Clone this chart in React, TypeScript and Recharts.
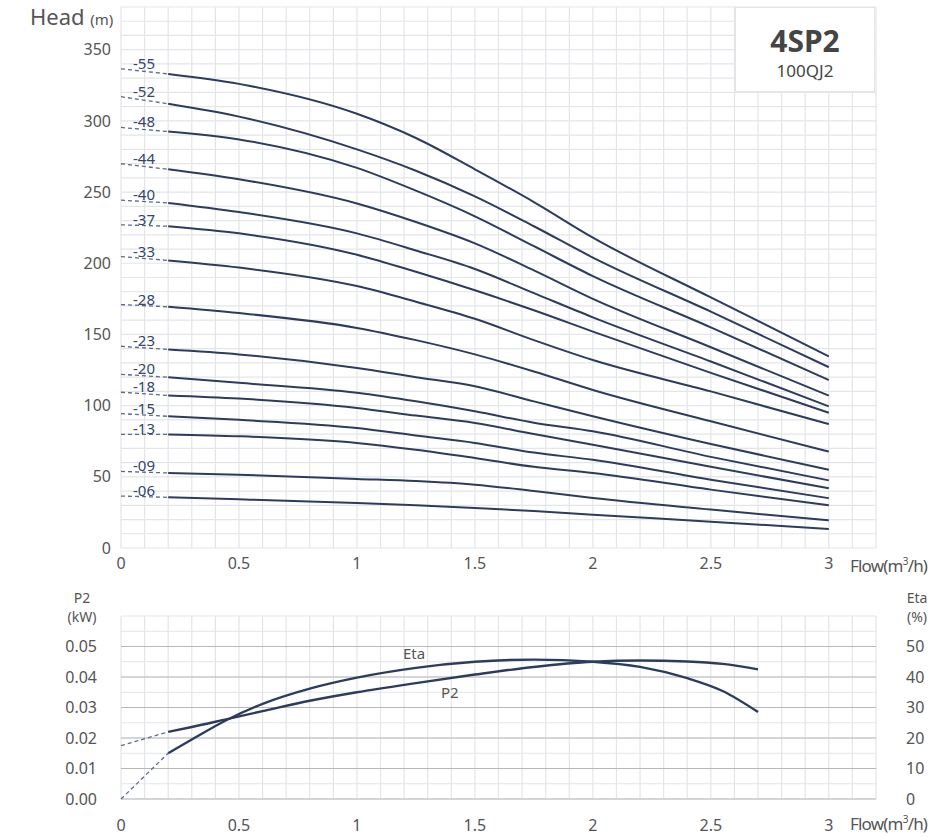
import { CartesianGrid, Line, LineChart, ReferenceLine, XAxis, YAxis } from "recharts";

// stage labels, top to bottom
const stages = ["-55", "-52", "-48", "-44", "-40", "-37", "-33", "-28", "-23", "-20", "-18", "-15", "-13", "-09", "-06"];

// flow points (m3/h) where the head curves were read
const flowPts = [0.2, 0.5, 1.0, 1.25, 1.5, 1.75, 2.0, 2.5, 3.0];

const head55 = [333, 326, 305, 288, 266, 243, 218, 176, 134.6];
const head52 = [312, 303, 280, 265, 247, 226, 204, 166, 127];
const head48 = [292.5, 287, 267, 251, 233, 212, 191, 155, 118];
const head44 = [266, 259, 242, 229, 214, 195, 175, 141, 107];
const head40 = [242.4, 236, 221, 209, 196, 179, 162, 131, 99.5];
const head37 = [226, 221, 206, 194, 181, 167, 152, 123, 95];
const head33 = [202, 197, 184, 173, 161, 146, 132, 110, 87];
const head28 = [169.4, 165, 154.6, 146, 136, 124, 111, 89, 67.7];
const head23 = [139.4, 136, 126.5, 120, 113.6, 103, 92.5, 73, 55];
const head20 = [119.9, 116, 109, 103, 96, 88, 82, 64, 47.5];
const head18 = [107.2, 105, 98.4, 93, 87.8, 80, 72.6, 57, 42];
const head15 = [92.5, 90, 84.3, 79, 73.8, 67, 62, 48, 35];
const head13 = [79.8, 78.5, 73.8, 69, 63.2, 57, 52.7, 41, 30];
const head09 = [52.7, 51.5, 48.5, 47, 44.5, 40, 35.1, 27, 19.4];
const head06 = [35.6, 34.2, 31.6, 30, 28.1, 26, 23.4, 18.5, 13.4];

// extrapolated head at zero flow (dashed part)
const headAtZero = [336.6, 317, 295.4, 269.9, 244.3, 227, 204.7, 171, 141.7, 122, 109.4, 94.4, 79.8, 53.8, 36.5];

const headCurves = [head55, head52, head48, head44, head40, head37, head33, head28, head23, head20, head18, head15, head13, head09, head06];

// lower chart
const effFlow = [0.2, 0.3, 0.45, 0.6, 0.8, 1.0, 1.25, 1.5, 1.75, 2.0, 2.2, 2.4, 2.55, 2.7];
const etaVals = [15, 19.5, 26, 31.2, 36.2, 39.8, 43, 45, 45.7, 45, 43.3, 39.6, 35.4, 28.5];
const p2Vals = [0.022, 0.0236, 0.0262, 0.0288, 0.0322, 0.035, 0.038, 0.0408, 0.0433, 0.045, 0.0454, 0.0451, 0.0443, 0.0425];
const etaDashVals = [0, 15];
const p2DashVals = [0.0175, 0.022];
const dashFlow = [0, 0.2];

const flowTicks = [0, 0.5, 1, 1.5, 2, 2.5, 3];
const headTicks = [0, 50, 100, 150, 200, 250, 300, 350];
const p2Ticks = [0, 0.01, 0.02, 0.03, 0.04, 0.05];
const etaTicks = [0, 10, 20, 30, 40, 50];

const NAVY = "#2d3c5e";
const DASH = "#5b6a8c";
const GRID = "#e3e5e9";
const MAJOR = "#b8b8b8";
const TXT = "#555";
const FONT = "'Noto Sans', sans-serif";

const flowGrid = Array.from({ length: 33 }, (_, i) => i / 10);
const headGrid = Array.from({ length: 39 }, (_, i) => i * 10);
const p2Grid = Array.from({ length: 13 }, (_, i) => (i * 5) / 1000);

const fmtFlow = (v: number) => (flowTicks.includes(v) ? String(v) : "");
const fmtHead = (v: number) => (headTicks.includes(v) ? String(v) : "");
const fmtP2 = (v: number) => (p2Ticks.some((t) => Math.abs(t - v) < 1e-9) ? v.toFixed(2) : "");

const tickStyle = { fontSize: 16, fill: TXT, fontFamily: FONT };

function stageLabel(name: string) {
  return (props: any) => {
    if (props.index !== 0) return null;
    return (
      <text x={props.x + 12} y={props.y} fill="#34466b" fontSize={15} fontFamily={FONT}>
        {name}
      </text>
    );
  };
}

function HeadChart() {
  return (
    <LineChart width={942} height={580} margin={{ top: 7, right: 66, bottom: 0, left: 0 }}>
      <CartesianGrid stroke={GRID} strokeWidth={1.2} />
      <XAxis
        type="number"
        dataKey="q"
        domain={[0, 3.2]}
        ticks={flowGrid}
        interval={0}
        tickFormatter={fmtFlow}
        axisLine={false}
        tickLine={false}
        tickSize={0}
        tickMargin={10}
        height={32}
        tick={tickStyle}
      />
      <YAxis
        type="number"
        domain={[0, 380]}
        ticks={headGrid}
        interval={0}
        tickFormatter={fmtHead}
        axisLine={false}
        tickLine={false}
        tickSize={0}
        tickMargin={10}
        width={121}
        tick={tickStyle}
      />
      {headCurves.map((arr, s) => (
        <Line
          key={"d" + stages[s]}
          data={dashFlow.map((q, i) => ({ q, h: i === 0 ? headAtZero[s] : arr[0] }))}
          dataKey="h"
          stroke={DASH}
          strokeWidth={1.3}
          strokeDasharray="4 3"
          dot={false}
          isAnimationActive={false}
          label={stageLabel(stages[s])}
        />
      ))}
      {headCurves.map((arr, s) => (
        <Line
          key={"c" + stages[s]}
          data={flowPts.map((q, i) => ({ q, h: arr[i] }))}
          dataKey="h"
          type="monotone"
          stroke={NAVY}
          strokeWidth={2}
          dot={false}
          isAnimationActive={false}
        />
      ))}
    </LineChart>
  );
}

function PowerChart() {
  const etaData = effFlow.map((q, i) => ({ q, v: etaVals[i] }));
  const p2Data = effFlow.map((q, i) => ({ q, v: p2Vals[i] }));
  const etaDash = dashFlow.map((q, i) => ({ q, v: etaDashVals[i] }));
  const p2Dash = dashFlow.map((q, i) => ({ q, v: p2DashVals[i] }));
  return (
    <LineChart width={942} height={247} margin={{ top: 26, right: 0, bottom: 0, left: 0 }}>
      <CartesianGrid stroke={GRID} strokeWidth={1.2} yAxisId="p2" />
      <XAxis
        type="number"
        dataKey="q"
        domain={[0, 3.2]}
        ticks={flowGrid}
        interval={0}
        tickFormatter={fmtFlow}
        axisLine={false}
        tickLine={false}
        tickSize={0}
        tickMargin={21}
        height={38}
        tick={tickStyle}
      />
      <YAxis
        yAxisId="p2"
        type="number"
        domain={[0, 0.06]}
        ticks={p2Grid}
        interval={0}
        tickFormatter={fmtP2}
        axisLine={false}
        tickLine={false}
        tickSize={0}
        tickMargin={24}
        width={121}
        tick={tickStyle}
      />
      <YAxis
        yAxisId="eta"
        orientation="right"
        type="number"
        domain={[0, 60]}
        ticks={etaTicks}
        interval={0}
        axisLine={false}
        tickLine={false}
        tickSize={0}
        tickMargin={30}
        width={66}
        tick={tickStyle}
      />
      {p2Ticks.map((t) => (
        <ReferenceLine key={t} yAxisId="p2" y={t} stroke={MAJOR} strokeWidth={1.2} />
      ))}
      <Line yAxisId="eta" data={etaDash} dataKey="v" stroke={DASH} strokeWidth={1.3} strokeDasharray="4 3" dot={false} isAnimationActive={false} />
      <Line yAxisId="p2" data={p2Dash} dataKey="v" stroke={DASH} strokeWidth={1.3} strokeDasharray="4 3" dot={false} isAnimationActive={false} />
      <Line yAxisId="eta" data={etaData} dataKey="v" type="monotone" stroke={NAVY} strokeWidth={2.4} dot={false} isAnimationActive={false} />
      <Line yAxisId="p2" data={p2Data} dataKey="v" type="monotone" stroke={NAVY} strokeWidth={2.4} dot={false} isAnimationActive={false} />
    </LineChart>
  );
}

const abs = (left: number, top: number, extra: any = {}) => ({ position: "absolute" as const, left, top, ...extra });

export default function App() {
  return (
    <div style={{ position: "relative", width: 942, height: 837, fontFamily: FONT, color: TXT, background: "#fff" }}>
      <style>{"body{margin:0}"}</style>
      <div style={abs(0, 0)}>
        <HeadChart />
      </div>
      <div style={abs(0, 590)}>
        <PowerChart />
      </div>

      <div style={abs(30, 2, { fontSize: 22, lineHeight: "28px", whiteSpace: "nowrap" })}>
        Head <span style={{ fontSize: 15 }}>(m)</span>
      </div>

      <div
        style={abs(735, 7, {
          width: 140,
          height: 85,
          background: "#fff",
          border: "1px solid " + GRID,
          textAlign: "center",
          color: "#444",
          boxSizing: "border-box",
        })}
      >
        <div style={{ fontSize: 30, fontWeight: 700, lineHeight: "32px", marginTop: 17 }}>4SP2</div>
        <div style={{ fontSize: 17, lineHeight: "20px", marginTop: 4 }}>100QJ2</div>
      </div>

      <div style={abs(850, 554, { fontSize: 17, letterSpacing: -0.8, whiteSpace: "nowrap" })}>
        Flow(m<sup style={{ fontSize: 10 }}>3</sup>/h)
      </div>
      <div style={abs(850, 812, { fontSize: 17, letterSpacing: -0.8, whiteSpace: "nowrap" })}>
        Flow(m<sup style={{ fontSize: 10 }}>3</sup>/h)
      </div>

      <div style={abs(62, 591, { fontSize: 14, lineHeight: "14px", textAlign: "center", width: 40 })}>P2</div>
      <div style={abs(62, 610, { fontSize: 14, lineHeight: "14px", textAlign: "center", width: 40 })}>(kW)</div>
      <div style={abs(897, 591, { fontSize: 14, lineHeight: "14px", textAlign: "center", width: 40 })}>Eta</div>
      <div style={abs(897, 610, { fontSize: 14, lineHeight: "14px", textAlign: "center", width: 40 })}>(%)</div>

      <div style={abs(403, 643, { fontSize: 15 })}>Eta</div>
      <div style={abs(441, 682, { fontSize: 15 })}>P2</div>
    </div>
  );
}
